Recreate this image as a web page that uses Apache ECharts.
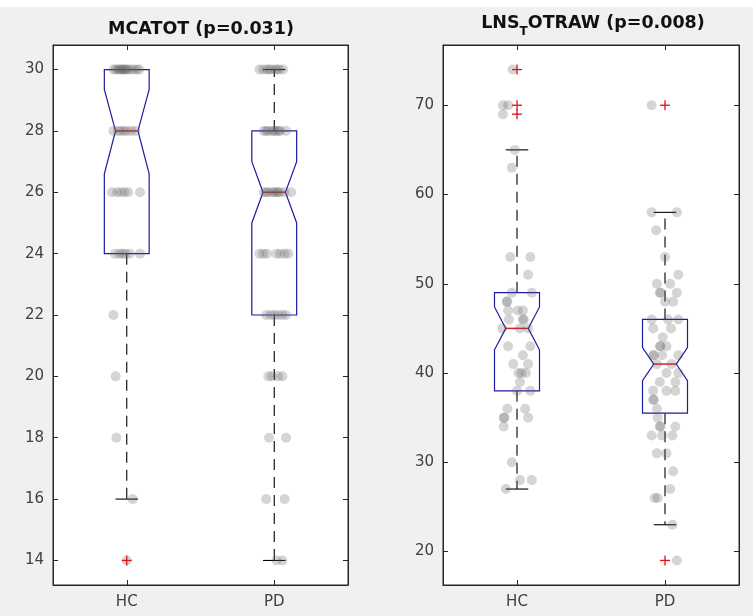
<!DOCTYPE html>
<html>
<head>
<meta charset="utf-8">
<script src="https://cdn.jsdelivr.net/npm/echarts@6/dist/echarts.min.js"></script>
<style>
  html, body { margin: 0; padding: 0; background: #f0f0f0; }
  #chart { width: 753px; height: 616px; }
</style>
</head>
<body>
<div id="chart"></div>
<script>
// Group names on the x axis
const groups = ['HC', 'PD'];

// Tick values for each panel
const mcaTicks = [14, 16, 18, 20, 22, 24, 26, 28, 30];
const lnsTicks = [20, 30, 40, 50, 60, 70];

// Box statistics per group: [whiskerLow, Q1, notchLow, median, notchHigh, Q3, whiskerHigh]
const mcaHcBox = [16, 24, 26.6, 28, 29.35, 30, 30];
const mcaPdBox = [14, 22, 25.0, 26, 27.0, 28, 30];
const lnsHcBox = [27, 38, 42.6, 45, 47.4, 49, 65];
const lnsPdBox = [23, 35.5, 39.15, 41, 42.85, 46, 58];

// Outliers (drawn as red plus signs)
const mcaHcOut = [14];
const mcaPdOut = [];
const lnsHcOut = [74, 70, 69];
const lnsPdOut = [70, 19];

// Individual subjects: scores and horizontal jitter (in group units)
const mcaHcVals = [30,30,30,30,30,30,30,30,30,30,30,30,30,30, 28,28,28,28,28,28,28, 26,26,26,26,26,26, 24,24,24,24,24,24, 22, 20, 18, 16, 14];
const mcaHcJit  = [-0.09,-0.075,-0.06,-0.05,-0.04,-0.03,-0.02,-0.01,0.0,0.01,0.03,0.05,0.07,0.085, -0.09,-0.06,-0.04,-0.02,0.0,0.03,0.06, -0.1,-0.065,-0.04,-0.015,0.01,0.09, -0.08,-0.05,-0.03,-0.01,0.02,0.09, -0.09, -0.075, -0.07, 0.04, 0.0];

const mcaPdVals = [30,30,30,30,30,30,30,30,30, 28,28,28,28,28,28,28,28,28, 26,26,26,26,26,26,26,26,26,26, 24,24,24,24,24,24,24, 22,22,22,22,22,22, 20,20,20,20, 18,18, 16,16, 14,14];
const mcaPdJit  = [-0.10,-0.075,-0.05,-0.035,-0.02,0.005,0.02,0.035,0.06, -0.07,-0.055,-0.04,-0.015,0.0,0.015,0.03,0.04,0.08, -0.07,-0.055,-0.04,-0.015,0.0,0.015,0.025,0.04,0.07,0.115, -0.10,-0.075,-0.05,0.015,0.04,0.07,0.095, -0.055,-0.025,0.0,0.025,0.055,0.08, -0.04,-0.015,0.025,0.055, -0.035,0.08, -0.055,0.07, 0.015,0.055];

const lnsHcVals = [74,70,70,69,65,63,53,53,51,49,49,48,48,47,47,47,46,46,46,45,45,45, 43,43,42,41,41,40,40,40,39,38,38,36,36,35,35,35,34,30,28,28,27];
const lnsHcJit  = [-0.03,-0.095,-0.06,-0.095,-0.015,-0.035,-0.045,0.09,0.075,-0.035,0.1,-0.07,-0.065,-0.06,0.04,0.005,0.04,0.045,-0.055,-0.1,0.075,0.02, -0.06,0.09,0.04,-0.025,0.075,0.01,0.03,0.06,0.02,0.0,0.09,-0.065,0.055,-0.09,-0.085,0.075,-0.09,-0.035,0.02,0.1,-0.075];

const lnsPdVals = [70,58,58,56,53,51,50,50,49,49,49,48,48,46,46,46,45,45,44,43,43,43,42,42,42,42,41,41,40,40,39,39,38,38,38,37,37,36,35,34,34,34,33,33,33,31,31,29,27,26,26,23,19];
const lnsPdJit  = [-0.09,-0.09,0.08,-0.06,0.0,0.09,-0.055,0.035,-0.035,-0.03,0.08,0.0,0.055,-0.09,0.02,0.09,-0.08,0.04,-0.015,-0.035,-0.03,0.01,-0.08,-0.075,-0.02,0.09,-0.055,0.045,0.01,0.09,-0.035,0.07,-0.08,0.01,0.07,-0.08,-0.075,-0.055,-0.05,-0.035,-0.03,0.07,-0.09,-0.02,0.05,-0.055,0.01,0.055,0.035,-0.07,-0.05,0.05,0.08];

// Geometry of the box glyphs (group units)
const BOX_HALF = 0.152;
const NOTCH_HALF = 0.076;
const CAP_HALF = 0.076;

const FONT = 'DejaVu Sans';
const AXIS_COLOR = '#262626';

const chart = echarts.init(document.getElementById('chart'), null, { renderer: 'canvas' });

function renderBox(params, api) {
  const x = api.value(0);
  const lo = api.value(1), q1 = api.value(2), nlo = api.value(3), med = api.value(4),
        nhi = api.value(5), q3 = api.value(6), hi = api.value(7);
  const P = (dx, v) => api.coord([x + dx, v]);
  const children = [];
  const dash = { stroke: '#000', lineWidth: 1.1, lineDash: [11, 7] };
  const solid = { stroke: '#000', lineWidth: 1.1 };
  if (hi > q3) {
    const a = P(0, q3), b = P(0, hi);
    children.push({ type: 'line', shape: { x1: a[0], y1: a[1], x2: b[0], y2: b[1] }, style: dash });
    const c1 = P(-CAP_HALF, hi), c2 = P(CAP_HALF, hi);
    children.push({ type: 'line', shape: { x1: c1[0], y1: c1[1], x2: c2[0], y2: c2[1] }, style: solid });
  }
  if (lo < q1) {
    const a = P(0, q1), b = P(0, lo);
    children.push({ type: 'line', shape: { x1: a[0], y1: a[1], x2: b[0], y2: b[1] }, style: dash });
    const c1 = P(-CAP_HALF, lo), c2 = P(CAP_HALF, lo);
    children.push({ type: 'line', shape: { x1: c1[0], y1: c1[1], x2: c2[0], y2: c2[1] }, style: solid });
  }
  const outline = [
    P(-BOX_HALF, q3), P(BOX_HALF, q3), P(BOX_HALF, nhi), P(NOTCH_HALF, med),
    P(BOX_HALF, nlo), P(BOX_HALF, q1), P(-BOX_HALF, q1), P(-BOX_HALF, nlo),
    P(-NOTCH_HALF, med), P(-BOX_HALF, nhi)
  ];
  children.push({ type: 'polygon', shape: { points: outline }, style: { fill: null, stroke: '#1c1ca0', lineWidth: 1.2 } });
  const m1 = P(-NOTCH_HALF, med), m2 = P(NOTCH_HALF, med);
  children.push({ type: 'line', shape: { x1: m1[0], y1: m1[1], x2: m2[0], y2: m2[1] }, style: { stroke: '#d81e1e', lineWidth: 1.5 } });
  return { type: 'group', children };
}

function renderPlus(params, api) {
  const c = api.coord([api.value(0), api.value(1)]);
  const h = 5;
  const st = { stroke: '#d81414', lineWidth: 1.3 };
  return {
    type: 'group',
    children: [
      { type: 'line', shape: { x1: c[0] - h, y1: c[1], x2: c[0] + h, y2: c[1] }, style: st },
      { type: 'line', shape: { x1: c[0], y1: c[1] - h, x2: c[0], y2: c[1] + h }, style: st }
    ]
  };
}

const panels = [
  { left: 53, width: 295, min: 13.2, max: 30.8, ticks: mcaTicks,
    boxes: [mcaHcBox, mcaPdBox], outs: [mcaHcOut, mcaPdOut],
    vals: [mcaHcVals, mcaPdVals], jit: [mcaHcJit, mcaPdJit] },
  { left: 443, width: 296, min: 16.25, max: 76.75, ticks: lnsTicks,
    boxes: [lnsHcBox, lnsPdBox], outs: [lnsHcOut, lnsPdOut],
    vals: [lnsHcVals, lnsPdVals], jit: [lnsHcJit, lnsPdJit] }
];

const grid = [], xAxis = [], yAxis = [], series = [];
panels.forEach((p, gi) => {
  grid.push({ left: p.left, width: p.width, top: 45, height: 540, show: true,
              backgroundColor: '#ffffff', borderColor: AXIS_COLOR, borderWidth: 1 });
  const catBase = {
    type: 'category', data: groups, gridIndex: gi, boundaryGap: true,
    axisLine: { show: true, lineStyle: { color: AXIS_COLOR, width: 1 } },
    axisTick: { show: true, inside: true, alignWithLabel: true, length: 5, lineStyle: { color: AXIS_COLOR } },
    splitLine: { show: false }
  };
  xAxis.push(Object.assign({}, catBase, { position: 'bottom',
    axisLabel: { color: '#404040', fontFamily: FONT, fontSize: 15, margin: 10 } }));
  xAxis.push(Object.assign({}, catBase, { position: 'top', axisLabel: { show: false } }));
  xAxis.push({ type: 'value', gridIndex: gi, min: 0.5, max: 2.5, show: false });

  const valBase = {
    type: 'value', gridIndex: gi, min: p.min, max: p.max, scale: true,
    axisLine: { show: true, lineStyle: { color: AXIS_COLOR, width: 1 } },
    axisTick: { show: true, inside: true, length: 5, customValues: p.ticks, lineStyle: { color: AXIS_COLOR } },
    splitLine: { show: false }
  };
  yAxis.push(Object.assign({}, valBase, { position: 'left',
    axisLabel: { customValues: p.ticks, color: '#404040', fontFamily: FONT, fontSize: 15, margin: 9 } }));
  yAxis.push(Object.assign({}, valBase, { position: 'right', axisLabel: { show: false } }));

  const xIdx = gi * 3 + 2, yIdx = gi * 2;
  series.push({
    type: 'custom', xAxisIndex: xIdx, yAxisIndex: yIdx, z: 2, silent: true,
    renderItem: renderBox,
    encode: { x: 0, y: [1, 2, 3, 4, 5, 6, 7] },
    data: p.boxes.map((b, i) => [i + 1].concat(b))
  });
  series.push({
    type: 'scatter', xAxisIndex: xIdx, yAxisIndex: yIdx, z: 3, silent: true,
    symbol: 'circle', symbolSize: 10,
    itemStyle: { color: 'rgba(95,95,95,0.33)' },
    data: p.vals.flatMap((vals, i) => vals.map((v, k) => [i + 1 + p.jit[i][k], v]))
  });
  series.push({
    type: 'custom', xAxisIndex: xIdx, yAxisIndex: yIdx, z: 4, silent: true,
    renderItem: renderPlus,
    encode: { x: 0, y: 1 },
    data: p.outs.flatMap((o, i) => o.map(v => [i + 1, v]))
  });
});

chart.setOption({
  backgroundColor: '#f0f0f0',
  animation: false,
  grid, xAxis, yAxis, series,
  graphic: [
    { type: 'rect', left: 0, top: 0, shape: { width: 753, height: 7 }, style: { fill: '#ffffff' }, silent: true },
    { type: 'text', x: 201, y: 29, silent: true,
      style: { text: 'MCATOT (p=0.031)', align: 'center', verticalAlign: 'middle',
               fill: '#111', font: 'bold 17.5px "DejaVu Sans"' } },
    { type: 'text', x: 593, y: 23, silent: true,
      style: { text: '{a|LNS}{b|T}{a|OTRAW (p=0.008)}', align: 'center', verticalAlign: 'middle',
               rich: {
                 a: { fontFamily: FONT, fontWeight: 'bold', fontSize: 17.5, lineHeight: 30, fill: '#111', verticalAlign: 'middle' },
                 b: { fontFamily: FONT, fontWeight: 'bold', fontSize: 12, lineHeight: 14, fill: '#111', verticalAlign: 'bottom' }
               } } }
  ]
});
</script>
</body>
</html>
